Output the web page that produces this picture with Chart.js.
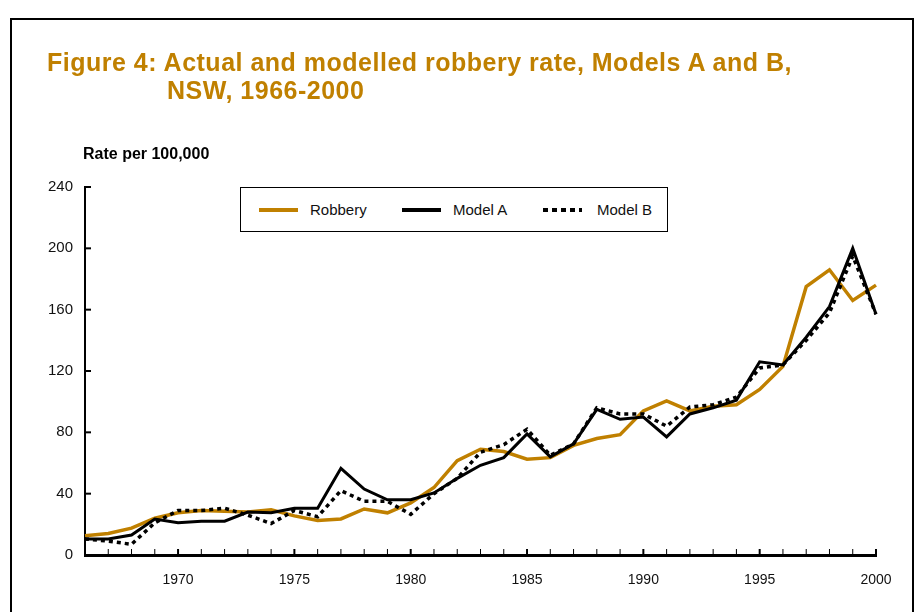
<!DOCTYPE html>
<html>
<head>
<meta charset="utf-8">
<script src="https://cdn.jsdelivr.net/npm/chart.js@4/dist/chart.umd.min.js"></script>
<style>
    body { margin: 0; background: #fff; }
    #wrap { position: relative; width: 916px; height: 612px; overflow: hidden; background: #fff; font-family: "Liberation Sans", Arial, sans-serif; }
    #frame { position: absolute; left: 10px; top: 18px; width: 904px; height: 700px; border: 2px solid #000; box-sizing: border-box; }
    #title { position: absolute; left: 47px; top: 49px; color: #C08000; font-weight: bold; font-size: 25px; line-height: 27.5px; letter-spacing: 0.5px; white-space: nowrap; }
    #title .l2 { margin-left: 120px; }
    #ylabel { position: absolute; left: 83px; top: 146px; font-weight: bold; font-size: 16px; line-height: 16px; color: #000; }
    #chart { position: absolute; left: 0; top: 0; }
    #legend { position: absolute; left: 240px; top: 187px; width: 428px; height: 45px; border: 1.5px solid #000; box-sizing: border-box; background: #fff; }
    .sw { position: absolute; top: 20px; height: 4px; width: 39px; }
    .lt { position: absolute; top: 13px; font-size: 15px; line-height: 18px; color: #111; }
</style>
</head>
<body>
<div id="wrap">
    <div id="frame"></div>
    <canvas id="chart" width="916" height="612"></canvas>
    <div id="title">Figure 4: Actual and modelled robbery rate, Models A and B,<br><span class="l2">NSW, 1966-2000</span></div>
    <div id="ylabel">Rate per 100,000</div>
    <div id="legend">
        <div class="sw" style="left:18px;background:#C08000;"></div>
        <div class="lt" style="left:69px;">Robbery</div>
        <div class="sw" style="left:161px;background:#000;"></div>
        <div class="lt" style="left:212px;">Model A</div>
        <div class="sw" style="left:302px;background:repeating-linear-gradient(90deg,#000 0 5px,transparent 5px 9px);"></div>
        <div class="lt" style="left:356px;">Model B</div>
    </div>
</div>
<script>
    const years = [];
    for (let yr = 1966; yr <= 2000; yr++) years.push(yr);

    const robbery = [12.5, 14, 17.5, 24, 27.5, 29, 28.5, 28, 29.5, 25.5,
        22.5, 23.5, 30, 27.5, 34, 44, 61.5, 69, 67.5, 62.5,
        63.5, 71.5, 76, 78.5, 94, 100.5, 94, 97, 98, 108,
        123, 175, 186, 166, 176];
    const modelA = [10.5, 10.5, 13, 23.5, 21, 22, 22, 28, 27.5, 30.5,
        30.5, 56.5, 43, 36, 36, 40.5, 50, 58.5, 63.5, 79,
        64, 72.5, 95, 88.5, 90, 77, 92, 96, 101, 126,
        124, 142, 162, 200, 157];
    const modelB = [10.5, 9, 7, 21, 29, 29, 30.5, 26, 20.5, 29,
        25, 42, 35, 35, 26.5, 40, 50, 67, 72, 82,
        65, 72.5, 96, 92, 92, 84, 96.5, 98, 103, 122,
        124, 140, 158, 195, 157];

    const yTicks = [0, 40, 80, 120, 160, 200, 240];

    // tick marks drawn inside the plot, like the original
    const innerTicks = {
        id: 'innerTicks',
        afterDraw(chart) {
            const ctx = chart.ctx;
            const x = chart.scales.x;
            const y = chart.scales.y;
            ctx.save();
            ctx.strokeStyle = '#000';
            for (let i = 0; i < years.length; i++) {
                const px = x.getPixelForValue(i);
                ctx.lineWidth = years[i] % 5 === 0 ? 2 : 1;
                ctx.beginPath();
                ctx.moveTo(px, x.top);
                ctx.lineTo(px, x.top - 6);
                ctx.stroke();
            }
            ctx.lineWidth = 2;
            yTicks.forEach(v => {
                const py = y.getPixelForValue(v);
                ctx.beginPath();
                ctx.moveTo(y.right, py);
                ctx.lineTo(y.right + 6, py);
                ctx.stroke();
            });
            ctx.restore();
        }
    };

    const ctx = document.getElementById('chart');

    new Chart(ctx, {
        type: 'line',
        data: {
            labels: years,
            datasets: [{
                label: 'Robbery',
                data: robbery,
                borderColor: '#C08000',
                borderWidth: 3.5,
                pointRadius: 0,
                tension: 0,
                order: 3
            }, {
                label: 'Model A',
                data: modelA,
                borderColor: '#000',
                borderWidth: 3,
                pointRadius: 0,
                tension: 0,
                order: 2
            }, {
                label: 'Model B',
                data: modelB,
                borderColor: '#000',
                borderWidth: 3.5,
                borderDash: [4, 4],
                pointRadius: 0,
                tension: 0,
                order: 1
            }]
        },
        options: {
            responsive: false,
            animation: false,
            devicePixelRatio: 1,
            layout: {
                padding: { left: 35, right: 40, top: 187, bottom: 17 }
            },
            plugins: {
                legend: { display: false },
                title: { display: false },
                tooltip: { enabled: false }
            },
            scales: {
                x: {
                    offset: false,
                    grid: { display: false, drawTicks: false },
                    border: { display: true, color: '#000', width: 3 },
                    ticks: {
                        autoSkip: false,
                        maxRotation: 0,
                        padding: 17,
                        color: '#111',
                        font: { family: '"Liberation Sans", Arial, sans-serif', size: 14 },
                        callback: function (val, idx) {
                            return years[idx] % 5 === 0 ? String(years[idx]) : '';
                        }
                    },
                    afterFit: function (scale) { scale.height = 40; }
                },
                y: {
                    min: 0,
                    max: 240,
                    grid: { display: false, drawTicks: false },
                    border: { display: true, color: '#000', width: 2 },
                    ticks: {
                        stepSize: 40,
                        padding: 12,
                        color: '#111',
                        font: { family: '"Liberation Sans", Arial, sans-serif', size: 15 }
                    },
                    afterFit: function (scale) { scale.width = 50; }
                }
            }
        },
        plugins: [innerTicks]
    });
</script>
</body>
</html>
